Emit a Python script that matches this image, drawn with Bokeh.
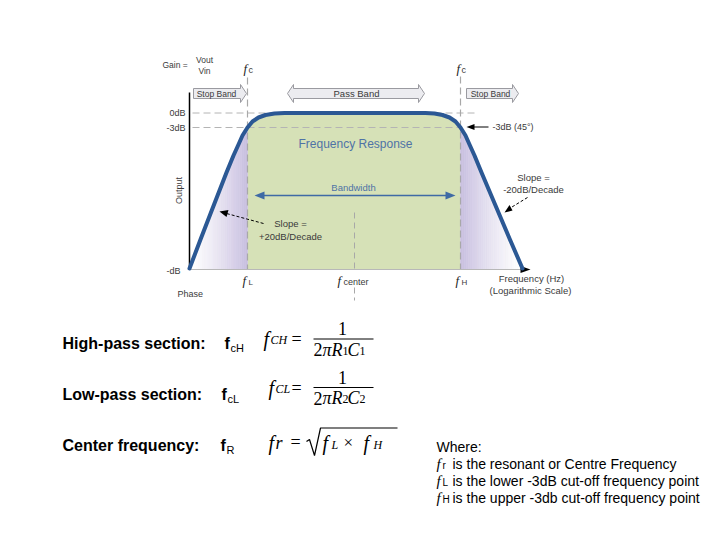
import numpy as np
from bokeh.plotting import figure
from bokeh.models import Range1d
from bokeh.core.properties import value
from bokeh.embed import file_html
from bokeh.resources import INLINE

# ---------------- data (diagram space) ----------------
# frequency response curve (band-pass shape)
curve_x = [189, 200, 212, 226, 233, 238, 242, 247, 252, 258, 265, 274, 284, 300,
           410, 425, 434, 442, 449, 455, 460, 465, 469, 474, 481, 495, 509, 522]
curve_y = [268, 239, 208, 172, 155, 144, 135, 127, 121, 117, 114.5, 113, 112.5, 112.5,
           112.5, 112.5, 113, 114.5, 117, 121, 127, 135, 144, 155, 172, 205, 238, 268]
f_low, f_center, f_high = 247, 354, 460
level_0db, level_3db, level_floor = 112.5, 127, 269
axis_left, axis_top, axis_right = 189, 92, 522

band_labels = ["Stop Band", "Pass Band", "Stop Band"]
level_labels = ["0dB", "-3dB"]
legend_lines = ["Where:",
                "is the resonant or Centre Frequency",
                "is the lower -3dB cut-off frequency point",
                "is the upper -3db cut-off frequency point"]
legend_subs = ["r", "L", "H"]
section_labels = ["High-pass section:", "Low-pass section:", "Center frequency:"]
section_subs = ["cH", "cL", "R"]

SANS = value("Liberation Sans")
SERIF = value("Liberation Serif")
DARK = "#3a3a3a"
BLUE_TXT = "#4f73a6"
CURVE = "#2b5894"
GREEN = "#d6e1b7"
LAV = np.array([200, 191, 224])
DASH = "#b4b4b4"

p = figure(width=704, height=524, x_range=Range1d(0, 704), y_range=Range1d(524, 0),
           output_backend="svg", toolbar_location=None, min_border=0)
p.axis.visible = False
p.grid.visible = False
p.outline_line_color = None
p.background_fill_color = "white"
p.border_fill_color = "white"


def txt(x, y, s, size, color="black", font=SANS, style="normal", align="left", angle=0):
    p.text(x=[x], y=[y], text=[s], text_font=font, text_font_size=f"{size}px",
           text_font_style=style, text_color=color, text_align=align,
           text_baseline="middle", angle=angle)


cx = np.array(curve_x, dtype=float)
cy = np.array(curve_y, dtype=float)
peak = int(np.argmin(cy))
lx, ly = cx[:peak + 1], cy[:peak + 1]
rx, ry = cx[peak:], cy[peak:]

# ---- pass band green area ----
m = (cx >= f_low) & (cx <= f_high)
gx = list(cx[m]) + [f_high, f_low]
gy = list(cy[m]) + [level_floor, level_floor]
p.patch(gx, gy, fill_color=GREEN, line_color=None)

# ---- lavender gradient stop bands ----
n = 30
def strip(xa, xb, xs, ys, t):
    c = (255 - (255 - LAV) * t).astype(int)
    col = "#%02x%02x%02x" % tuple(c)
    p.patch([xa, xb, xb, xa], [np.interp(xa, xs, ys), np.interp(xb, xs, ys), level_floor, level_floor],
            fill_color=col, line_color=col, line_width=0.6)

edges = np.linspace(curve_x[0], f_low, n + 1)
for i in range(n):
    strip(edges[i], edges[i + 1], lx, ly, ((i + 0.5) / n) ** 1.3)
edges = np.linspace(f_high, curve_x[-1], n + 1)
for i in range(n):
    strip(edges[i], edges[i + 1], rx, ry, (1 - (i + 0.5) / n) ** 1.3)

# ---- dashed guide lines ----
p.line([axis_left + 3, 475], [level_0db, level_0db], line_color=DASH, line_dash="7 4", line_width=1)
p.line([axis_left + 3, f_high], [level_3db, level_3db], line_color=DASH, line_dash="7 4", line_width=1)
p.line([f_low, f_low], [77, level_floor], line_color="#a8a8a8", line_dash="7 4", line_width=1.2)
p.line([f_high, f_high], [76, level_floor], line_color="#a8a8a8", line_dash="7 4", line_width=1.2)
p.line([f_center, f_center], [212, 272], line_color="#a8a8a8", line_dash="6 4", line_width=1)
p.line([f_center, f_center], [287, 300], line_color="#a8a8a8", line_dash="6 4", line_width=1)

# ---- axes ----
p.line([axis_left, axis_left], [axis_top, level_floor], line_color="black", line_width=1.5)
p.line([axis_left, axis_right], [level_floor, level_floor], line_color="#b8b8b8", line_width=1)
p.patch([520, 530, 520], [265.5, 269, 272.5], fill_color="black", line_color=None)

# ---- curve ----
p.line(curve_x, curve_y, line_color=CURVE, line_width=4, line_join="round", line_cap="round")

# ---- band arrows ----
def band_arrow(x0, x1, yc, left_head, right_head):
    h, H, hw = 5, 9, 6
    xs, ys = [], []
    a = x0 + (hw if left_head else 0)
    b = x1 - (hw if right_head else 0)
    xs += [a, b]; ys += [yc - h, yc - h]
    if right_head:
        xs += [b, x1, b]; ys += [yc - H, yc, yc + H]
    xs += [b, a]; ys += [yc + h, yc + h]
    if left_head:
        xs += [a, x0, a]; ys += [yc + H, yc, yc - H]
    p.patch(xs, ys, fill_color="#ececf0", line_color="#9a9aa0", line_width=1)

band_x = [(193, 246, False, True), (287, 424, True, True), (466, 518, False, True)]
band_cx = [216, 356, 490]
band_sz = [8.5, 9.5, 8.5]
for (x0, x1, lh, rh), lab, c, sz in zip(band_x, band_labels, band_cx, band_sz):
    band_arrow(x0, x1, 93, lh, rh)
    txt(c, 93, lab, sz, DARK, align="center")

# ---- bandwidth arrow ----
p.line([260, 449], [195, 195], line_color="#3f6aa5", line_width=1.5)
p.patch([254, 264, 264], [195, 191, 199], fill_color="#3f6aa5", line_color=None)
p.patch([455, 445, 445], [195, 191, 199], fill_color="#3f6aa5", line_color=None)
txt(353, 187, "Bandwidth", 9.5, BLUE_TXT, align="center")
txt(355, 143, "Frequency Response", 12, BLUE_TXT, align="center")

# ---- -3dB pointer ----
p.line([472, 488], [126.5, 126.5], line_color="black", line_width=1)
p.patch([466, 474, 474], [126.5, 123.5, 129.5], fill_color="black", line_color=None)
txt(492, 126, "-3dB (45\u00b0)", 9, DARK)

# ---- slope pointers ----
p.line([263, 226], [223, 213], line_color="black", line_width=1, line_dash="3 2")
p.patch([219, 228, 226], [211, 209.5, 216.5], fill_color="black", line_color=None)
txt(290, 223, "Slope =", 9.5, DARK, align="center")
txt(290, 236, "+20dB/Decade", 9.5, DARK, align="center")
p.line([527, 509], [197, 208], line_color="black", line_width=1, line_dash="3 2")
p.patch([504, 509, 512], [212, 204.5, 210], fill_color="black", line_color=None)
txt(533, 177, "Slope =", 9.5, DARK, align="center")
txt(533, 189, "-20dB/Decade", 9.5, DARK, align="center")

# ---- axis labels ----
txt(162, 64, "Gain =", 8.5, DARK)
txt(204, 59, "Vout", 8.5, DARK, align="center")
txt(204, 70, "Vin", 8.5, DARK, align="center")
for xf in (f_low, f_high):
    txt(xf - 4, 68, "f", 13, "#222", font=SERIF, style="italic")
    txt(xf + 1, 69, "c", 9, DARK)
for lab, yv in zip(level_labels, [level_0db, level_3db]):
    txt(185, yv, lab, 9, DARK, align="right")
txt(180, 270, "-dB", 9, DARK, align="right")
txt(177, 293, "Phase", 9, DARK)
txt(178, 190, "Output", 9, DARK, align="center", angle=np.pi / 2)
txt(f_low - 5, 280, "f", 13, "#222", font=SERIF, style="italic")
txt(f_low + 1, 282, "L", 8, DARK)
txt(f_center - 17, 280, "f", 13, "#222", font=SERIF, style="italic")
txt(f_center - 11, 281, "center", 9, DARK)
txt(f_high - 5, 280, "f", 13, "#222", font=SERIF, style="italic")
txt(f_high + 1, 282, "H", 8, DARK)
txt(531, 278, "Frequency (Hz)", 9.5, DARK, align="center")
txt(530, 290, "(Logarithmic Scale)", 9.5, DARK, align="center")

# ---------------- lower section ----------------
sec_y = [343, 394, 445]
sec_fx = [224, 221, 220]
for lab, sub, yc, fx in zip(section_labels, section_subs, sec_y, sec_fx):
    txt(62, yc, lab, 16, "black", style="bold")
    txt(fx, yc, "f", 16, "black", style="bold")
    txt(fx + 6, yc + 4, sub, 11, "black")

# formulas
def fraction(fx0, subsym, sub_idx, bar_y):
    txt(fx0, bar_y, "f", 20, "black", font=SERIF, style="italic")
    txt(fx0 + 7, bar_y + 1, subsym, 12, "black", font=SERIF, style="italic")
    txt(291, bar_y, "=", 18, "black", font=SERIF)
    txt(342, bar_y - 10.5, "1", 18, "black", font=SERIF, align="center")
    p.line([313, 373], [bar_y, bar_y], line_color="black", line_width=1)
    by = bar_y + 10.5
    txt(313, by, "2", 18, "black", font=SERIF)
    txt(322, by, "\u03c0", 18, "black", font=SERIF, style="italic")
    txt(331, by, "R", 18, "black", font=SERIF, style="italic")
    txt(342, by + 1, sub_idx, 12, "black", font=SERIF)
    txt(347, by, "C", 18, "black", font=SERIF, style="italic")
    txt(359, by + 1, sub_idx, 12, "black", font=SERIF)

fraction(263, "CH", "1", 338.5)
fraction(268, "CL", "2", 387)

# fr = sqrt(fL x fH)
fc_y = 442
txt(268, fc_y, "f", 20, "black", font=SERIF, style="italic")
txt(275, fc_y, "r", 18, "black", font=SERIF, style="italic")
txt(290, fc_y - 1, "=", 18, "black", font=SERIF)
p.line([306, 309, 314, 320, 397], [441, 439, 455, 427.5, 427.5], line_color="black", line_width=1.2)
txt(322, fc_y, "f", 20, "black", font=SERIF, style="italic")
txt(331, fc_y + 2, "L", 12, "black", font=SERIF, style="italic")
txt(343, fc_y, "\u00d7", 17, "black", font=SERIF)
txt(363, fc_y, "f", 20, "black", font=SERIF, style="italic")
txt(373, fc_y + 2, "H", 12, "black", font=SERIF, style="italic")

# legend "Where:"
leg_y = [446, 463, 480, 497]
txt(436, leg_y[0], legend_lines[0], 14, "black")
for yc, sub, line in zip(leg_y[1:], legend_subs, legend_lines[1:]):
    txt(436, yc, "f", 15, "black", font=SERIF, style="italic")
    txt(442, yc + 2, sub, 10, "black")
    txt(452, yc, line, 14, "black")

open("out.html", "w").write(file_html(p, INLINE))
